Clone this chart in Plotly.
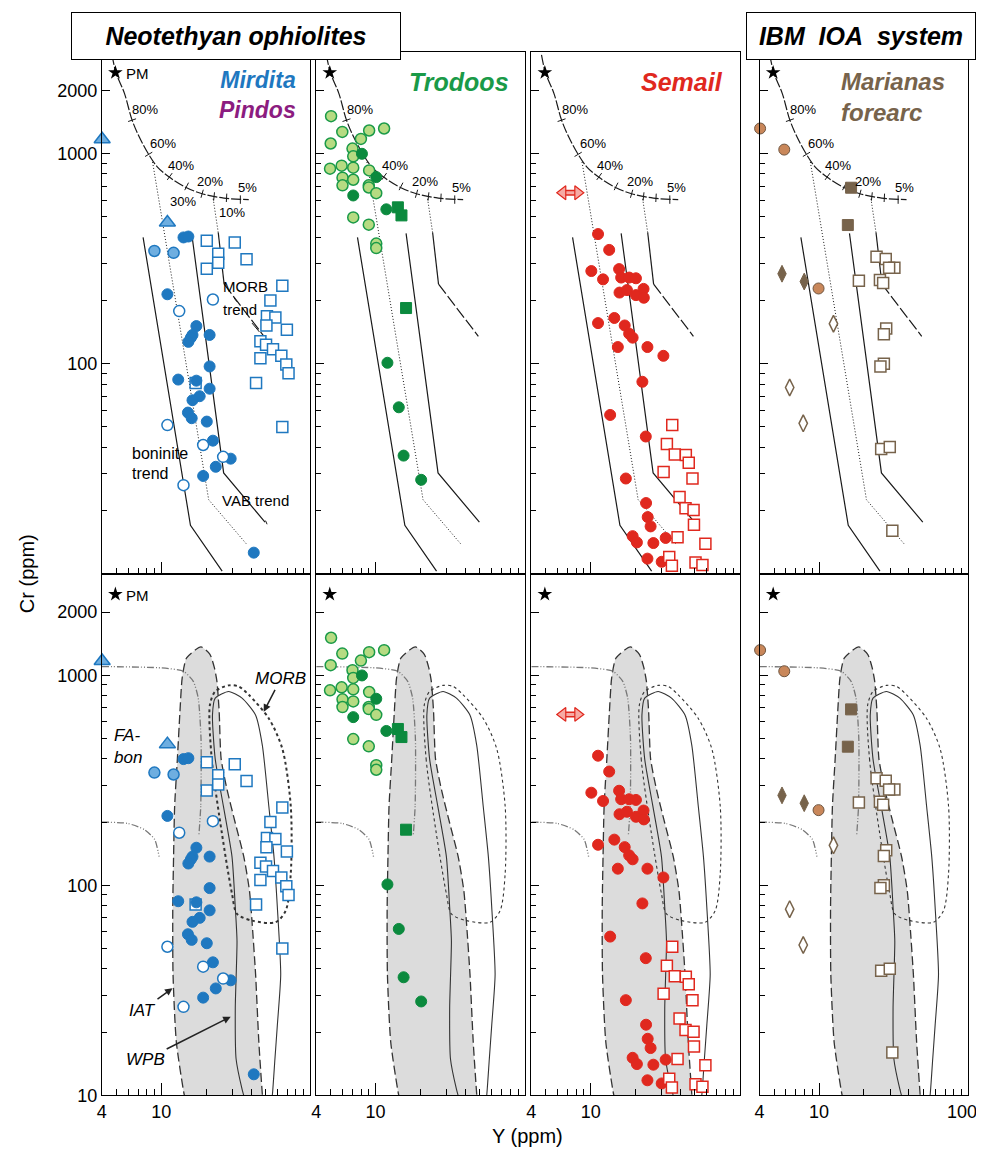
import numpy as np
import plotly.graph_objects as go

# ---------------- DATA (x = Y ppm, y = Cr ppm) ----------------
# Panel 1: Mirdita / Pindos
mir_sq_y = [20.2, 31.1, 24.1, 24.1, 20.2, 37.3, 64.8, 53.9, 51.1, 58.2, 50.7, 69.5, 46.2, 50.4, 56.1, 46.2, 63.8, 68.9, 71.3, 43.2, 64.8, 17.0]
mir_sq_cr = [385, 377, 334, 302, 283, 314, 235, 200, 168, 166, 152, 145, 128, 123, 117, 106, 109, 99, 90, 81, 50, 81]
mir_fill_y = [14.1, 15.2, 11.0, 17.2, 16.2, 15.8, 15.2, 21.1, 21.1, 13.0, 17.2, 21.1, 18.1, 16.2, 15.1, 16.0, 20.2, 22.2, 29.2, 23.2, 19.1, 41.7]
mir_fill_cr = [399, 403, 214, 151, 137, 133, 127, 137, 97, 84, 83, 76, 70, 67, 58.5, 55, 53, 43, 35.3, 32.3, 29.2, 12.6]
mir_open_y = [22.2, 13.2, 11.0, 19.1, 26.0, 14.1]
mir_open_cr = [202, 178, 51, 41, 36, 26.4]
pin_circ_y = [9.0, 12.1]
pin_circ_cr = [344, 337]
pin_tri_y = [4.02, 11.0]
pin_tri_cr = [1170, 470]

# Panel 2: Troodos
tro_light_y = [5.03, 5.98, 9.05, 11.4, 7.97, 5.0, 7.0, 7.08, 4.95, 5.92, 7.08, 9.05, 6.0, 7.08, 6.0, 9.0, 9.0, 10.1, 7.08, 9.0, 10.1, 10.1]
tro_light_cr = [1508, 1268, 1288, 1317, 1175, 1117, 1057, 971, 848, 876, 857, 832, 768, 751, 706, 706, 690, 648, 497, 459, 373, 355]
tro_dark_y = [8.1, 10.1, 7.08, 11.8, 12.0, 14.3, 15.4, 20.2]
tro_dark_cr = [998, 773, 632, 543, 101, 62, 36.5, 28]
tro_sq_y = [14.1, 14.9, 16.0]
tro_sq_cr = [555, 508, 184]

# Panel 3: Semail
sem_circ_y = [11.2, 13.3, 10.1, 12.1, 15.5, 16.0, 18.1, 20.1, 15.6, 17.5, 20.1, 22.6, 22.7, 11.2, 14.4, 16.9, 18.1, 19.1, 15.2, 24.0, 30.7, 22.2, 13.5, 23.4, 17.2, 23.5, 24.1, 25.2, 19.1, 20.4, 26.3, 31.8, 24.0, 29.9]
sem_circ_cr = [414, 348, 276, 252, 282, 257, 257, 255, 218, 224, 212, 227, 206, 156, 165, 152, 139, 133, 120, 120, 109, 82, 57, 45, 28.4, 21.7, 18.6, 16.8, 15.1, 14.1, 14.0, 14.8, 11.8, 11.4]
sem_sq_y = [35.2, 32.4, 36.6, 43.4, 45.4, 30.8, 48.1, 39.4, 43.2, 48.9, 49.2, 38.2, 58.7, 33.6, 35.0, 50.4, 56.1]
sem_sq_cr = [51, 41.4, 36.9, 36.7, 33.8, 30.5, 28.4, 23.2, 20.5, 20.1, 17.1, 14.9, 13.9, 12.0, 10.9, 11.3, 11.0]
sem_arrow_y = [6.5, 8.2]
sem_arrow_cr = [651, 651]

# Panel 4: Marianas forearc
mar_circ_y = [4.03, 5.85, 9.93]
mar_circ_cr = [1317, 1045, 228]
mar_fsq_y = [16.4, 15.6]
mar_fsq_cr = [688, 457]
mar_fdia_y = [5.65, 7.96]
mar_fdia_cr = [268, 246]
mar_odia_y = [12.5, 6.36, 7.84]
mar_odia_cr = [155, 77, 52]
mar_osq_y = [24.3, 28.0, 32.0, 29.5, 18.5, 25.6, 26.9, 28.2, 27.2, 27.2, 25.8, 26.1, 29.8, 31.0]
mar_osq_cr = [323, 315, 286, 286, 248, 250, 242, 147, 138, 100, 97, 39.2, 40.1, 16.0]

# Primitive mantle and melting curve (top row)
pm_y = [4.93]
pm_cr = [2430]
melt_y = [4.68, 4.99, 5.67, 6.38, 7.13, 8.24, 9.44, 11.3, 14.2, 18.8, 26.3, 38.6]
melt_cr = [2950, 2415, 1936, 1443, 1200, 992, 863, 773, 698, 644, 614, 604]
melt_tick_y = [6.38, 8.24, 11.4, 14.8, 18.8, 22.6, 27.4, 33.9]
melt_tick_cr = [1443, 992, 778, 698, 644, 625, 616, 604]
melt_tick_angle = [71, 59, 36, 27, 16, 6, 3, 0]
pct_text = ["80%", "60%", "40%", "30%", "20%", "10%", "5%"]
pct_y = [7.8, 10.3, 13.5, 13.9, 21.3, 29.8, 37.6]
pct_cr = [1620, 1120, 875, 591, 740, 526, 688]
pct_show = [["80%", "60%", "40%", "30%", "20%", "10%", "5%"],
            ["80%", "40%", "20%", "5%"],
            ["80%", "60%", "40%", "20%", "5%"],
            ["80%", "60%", "40%", "20%", "5%"]]

# Trend lines (top row)
bon_y = [7.56, 15.7, 25.6]
bon_cr = [399, 17.0, 10.3]
vab_y = [8.75, 20.8, 37.1]
vab_cr = [912, 22.5, 13.9]
mid_y = [16.0, 26.2, 49.6]
mid_cr = [417, 30.2, 17.6]
morbt_dot_y = [22.3, 24.1]
morbt_dot_cr = [609, 421]
morbt_sol_y = [24.1, 26.4]
morbt_sol_cr = [421, 239]
morbt_dash_y = [26.4, 48.8]
morbt_dash_cr = [239, 135]
lead1_y = [30.7, 32.2]
lead1_cr = [206, 197]
lead2_y = [40.6, 45.5]
lead2_cr = [156, 141.6]
lead3_y = [50.0, 51.2]
lead3_cr = [17.9, 17.2]

# Discrimination fields (bottom row)
iat_y = [14.6, 14.25, 12.63, 12.0, 11.95, 12.1, 12.3, 12.83, 13.35, 13.82, 14.8, 18.48, 21.2, 22.73, 23.62, 24.45, 25.2, 27.6, 31.35, 35.75, 39.0, 40.7, 42.9, 45.1, 47.6, 48.0]
iat_cr = [9.5, 10.1, 17.9, 37.6, 78.7, 137, 238, 400, 671, 971, 1211, 1364, 1258, 1084, 936, 671, 400, 286, 198, 137, 94.6, 65.4, 37.6, 17.9, 10.1, 9.5]
wpb_y = [36.6, 34.8, 31.75, 31.35, 32.2, 31.35, 29.8, 26.1, 23.0, 22.05, 23.0, 28.3, 34.8, 42.85, 47.6, 52.6, 56.95, 60.0, 63.2, 60.0, 57.8, 55.6, 54.75]
wpb_cr = [9.4, 10.7, 14.9, 26.0, 54.3, 78.7, 137, 238, 400, 647, 778, 837, 778, 647, 464, 238, 137, 78.7, 37.6, 21.6, 14.9, 10.1, 9.4]
morb_y = [21.2, 21.8, 25.5, 29.8, 32.2, 40.7, 58.4, 68.3, 73.8, 73.8, 64.8, 52.6, 38.6, 33.0, 28.3, 23.0, 21.2]
morb_cr = [723, 400, 177, 91.2, 73.1, 67.9, 66.7, 75.8, 113.8, 238, 447, 623, 807, 885, 895, 837, 723]
fab1_y = [4.0, 10.05, 14.07, 16.4, 17.7, 18.48, 18.4, 17.9]
fab1_cr = [1100, 1084, 1045, 936, 778, 499, 238, 175]
fab2_y = [4.0, 5.98, 7.74, 9.05, 9.68]
fab2_cr = [200, 197, 184, 165, 137]

# Axis ticks
x_major = [4, 10]
x_minor = [5, 6, 7, 8, 9, 20, 30, 40, 50, 60, 70, 80, 90]
x_edge_label = 100
y_major = [10, 100, 1000, 2000]
y_minor = [20, 30, 40, 50, 60, 70, 80, 90, 200, 300, 400, 500, 600, 700, 800, 900]

# ---------------- LAYOUT ----------------
# The page keeps the browser's default 8px body margin.
OFF = 8
FIG_W, FIG_H = 968, 1148
VSCALE = 0.991          # vertical scale observed between page and photograph
PANEL_LEFT = [97.3, 312.8, 529.0, 758.5]
PANEL_W = 209.7
ROW_PX = [(52, 573.5), (573.5, 1095)]
Y_TOP = 3.4833
FONT = "Liberation Sans, Arial, sans-serif"


def px(p):
    return (p - OFF) / FIG_W


def py(p):
    return 1 - (p / VSCALE - OFF) / FIG_H


BLUE = "#1f78c0"
LBLUE = "#6eaee0"
PURPLE = "#8c1c80"
GREEN_D = "#0b8a3e"
GREEN_L = "#b6db82"
GREEN_E = "#1a9a48"
RED = "#e0281e"
PINK = "#f6aaa4"
BROWN = "#77634b"
ORANGE = "#c9875a"
BROWN_E = "#6e5540"

fig = go.Figure()
layout = {}
annotations = []


def sfx(k):
    return "" if k == 1 else str(k)


for r in range(2):
    for c in range(4):
        k = r * 4 + c + 1
        s = sfx(k)
        L = PANEL_LEFT[c]
        top, bot = ROW_PX[r]
        layout["xaxis" + s] = dict(
            type="log", range=[np.log10(4), 2.0],
            domain=[px(L), px(L + PANEL_W)], anchor="y" + s,
            showline=True, mirror=True, linecolor="black", linewidth=1,
            ticks="inside", ticklen=12, tickwidth=1, tickcolor="black",
            tickmode="array", tickvals=x_major, ticktext=[str(v) for v in x_major],
            showticklabels=(r == 1),
            minor=dict(tickmode="array", tickvals=x_minor, ticks="inside", ticklen=6,
                       tickwidth=1, tickcolor="black", showgrid=False),
            showgrid=False, zeroline=False,
            tickfont=dict(family=FONT, size=18, color="black"),
        )
        ytxt = ["" if r == 0 else "10", "100", "1000", "2000"]
        layout["yaxis" + s] = dict(
            type="log", range=[1.0, Y_TOP],
            domain=[py(bot), py(top)], anchor="x" + s,
            showline=True, mirror=True, linecolor="black", linewidth=1,
            ticks="inside", ticklen=8, tickwidth=1, tickcolor="black",
            tickmode="array", tickvals=y_major, ticktext=ytxt,
            showticklabels=(c == 0),
            minor=dict(tickmode="array", tickvals=y_minor, ticks="inside", ticklen=5,
                       tickwidth=1, tickcolor="black", showgrid=False),
            showgrid=False, zeroline=False,
            tickfont=dict(family=FONT, size=18, color="black"),
        )


def add(k, x, y, **kw):
    s = sfx(k)
    fig.add_trace(go.Scatter(x=x, y=y, xaxis="x" + s, yaxis="y" + s,
                             showlegend=False, hoverinfo="skip", **kw))


def note(k, xv, yv, text, size=13, **kw):
    s = sfx(k)
    d = dict(xref="x" + s, yref="y" + s, x=np.log10(xv), y=np.log10(yv), text=text,
             showarrow=False, font=dict(family=FONT, size=size, color="black"))
    d.update(kw)
    annotations.append(d)


def pts(k, x, y, symbol, size, fill, edge, ew=1.5):
    add(k, x, y, mode="markers", cliponaxis=False,
        marker=dict(symbol=symbol, size=size, color=fill, line=dict(color=edge, width=ew)))


LINE = "#1a1a1a"
for c in range(4):
    # ---------- top row: melting curve and trends ----------
    k = c + 1
    add(k, melt_y, melt_cr, mode="lines", line=dict(color=LINE, width=1.2, dash="10px,2px", shape="spline"))
    add(k, melt_tick_y, melt_tick_cr, mode="markers",
        marker=dict(symbol="line-ns", size=6, angle=melt_tick_angle, line=dict(color=LINE, width=1)))
    add(k, bon_y, bon_cr, mode="lines", line=dict(color=LINE, width=1.2))
    add(k, vab_y, vab_cr, mode="lines", line=dict(color=LINE, width=1, dash="1px,2px"))
    add(k, mid_y, mid_cr, mode="lines", line=dict(color=LINE, width=1.2))
    add(k, morbt_dot_y, morbt_dot_cr, mode="lines", line=dict(color=LINE, width=1, dash="1px,2px"))
    add(k, morbt_sol_y, morbt_sol_cr, mode="lines", line=dict(color=LINE, width=1.2))
    add(k, morbt_dash_y, morbt_dash_cr, mode="lines", line=dict(color=LINE, width=1.2, dash="12px,3px"))
    for t, xx, yy in zip(pct_text, pct_y, pct_cr):
        if t in pct_show[c]:
            note(k, xx, yy, t, size=13)

    # ---------- bottom row: fields ----------
    k = 4 + c + 1
    add(k, iat_y, iat_cr, mode="lines", fill="toself", fillcolor="#dcdcdc",
        line=dict(color="#333333", width=1.3, dash="9px,4px", shape="spline", smoothing=0.6))
    add(k, wpb_y, wpb_cr, mode="lines", line=dict(color="#333333", width=1.1, shape="spline", smoothing=0.6))
    add(k, morb_y, morb_cr, mode="lines",
        line=dict(color="#333333", width=2 if c == 0 else 1.1, dash="dot", shape="spline", smoothing=0.8))
    add(k, fab1_y, fab1_cr, mode="lines",
        line=dict(color="#777777", width=1.3, dash="7px,2px,1px,2px,1px,2px", shape="spline", smoothing=0.6))
    add(k, fab2_y, fab2_cr, mode="lines",
        line=dict(color="#777777", width=1.3, dash="7px,2px,1px,2px,1px,2px", shape="spline", smoothing=0.6))

# trend labels, panel 1 top
note(1, 36.7, 232, "MORB", size=15)
note(1, 33.5, 181, "trend", size=15)
note(1, 6.22, 37.3, "boninite", size=16, xanchor="left")
note(1, 6.22, 30.0, "trend", size=16, xanchor="left")
note(1, 42.8, 22.3, "VAB trend", size=15)
for ly, lc in [(lead1_y, lead1_cr), (lead2_y, lead2_cr), (lead3_y, lead3_cr)]:
    add(1, ly, lc, mode="lines", line=dict(color=LINE, width=1))

# field labels, panel 1 bottom
note(5, 4.71, 518, "<i>FA-</i>", size=17, xanchor="left")
note(5, 4.71, 408, "<i>bon</i>", size=17, xanchor="left")
arrow_style = dict(showarrow=True, arrowhead=2, arrowsize=1, arrowwidth=1.5, arrowcolor="#222222",
                   axref="pixel", ayref="pixel")
note(5, 48.6, 670, "<i>MORB</i>", size=17, ax=17, ay=-33, **arrow_style)
note(5, 11.9, 32.4, "<i>IAT</i>", size=17, ax=-30, ay=22, **arrow_style)
note(5, 29.2, 23.7, "<i>WPB</i>", size=17, ax=-85, ay=43, **arrow_style)

# ---------- data points in both rows ----------
for r in range(2):
    base = r * 4
    # Mirdita / Pindos
    k = base + 1
    pts(k, mir_sq_y, mir_sq_cr, "square", 11, "white", BLUE)
    pts(k, mir_fill_y, mir_fill_cr, "circle", 11, BLUE, BLUE, 1)
    pts(k, mir_open_y, mir_open_cr, "circle", 11, "white", BLUE)
    pts(k, pin_circ_y, pin_circ_cr, "circle", 11, LBLUE, BLUE)
    pts(k, pin_tri_y, pin_tri_cr, "triangle-up", 14, LBLUE, BLUE)
    # Troodos
    k = base + 2
    pts(k, tro_light_y, tro_light_cr, "circle", 11, GREEN_L, GREEN_E)
    pts(k, tro_dark_y, tro_dark_cr, "circle", 11, GREEN_D, GREEN_D, 1)
    pts(k, tro_sq_y, tro_sq_cr, "square", 11, GREEN_D, GREEN_D, 1)
    # Semail
    k = base + 3
    add(k, sem_arrow_y, sem_arrow_cr, mode="lines", line=dict(color=RED, width=6))
    add(k, sem_arrow_y, sem_arrow_cr, mode="lines", line=dict(color=PINK, width=3))
    add(k, sem_arrow_y, sem_arrow_cr, mode="markers",
        marker=dict(symbol=["triangle-left", "triangle-right"], size=12, color=PINK,
                    line=dict(color=RED, width=1.2)))
    pts(k, sem_circ_y, sem_circ_cr, "circle", 11, RED, RED, 1)
    pts(k, sem_sq_y, sem_sq_cr, "square", 11, "white", RED)
    # Marianas
    k = base + 4
    pts(k, mar_osq_y, mar_osq_cr, "square", 11, "white", BROWN)
    pts(k, mar_fsq_y, mar_fsq_cr, "square", 11, BROWN, BROWN, 1)
    pts(k, mar_fdia_y, mar_fdia_cr, "diamond-tall", 12, BROWN, BROWN, 1)
    pts(k, mar_odia_y, mar_odia_cr, "diamond-tall", 12, "white", BROWN)
    pts(k, mar_circ_y, mar_circ_cr, "circle", 11, ORANGE, BROWN_E, 1)
    # PM star
    for c in range(4):
        add(base + c + 1, pm_y, pm_cr, mode="markers", cliponaxis=False,
            marker=dict(symbol="star", size=11, color="black", line=dict(width=0)))
    note(base + 1, 6.9, 2400, "PM", size=15)

# right-edge x label of the last panel (kept inside the page)
annotations.append(dict(xref="x8", yref="y8", x=np.log10(x_edge_label), y=1.0, text=str(x_edge_label),
                        showarrow=False, xanchor="center", yanchor="middle", xshift=-6, yshift=-17,
                        font=dict(family=FONT, size=18, color="black")))


# panel names
def ptitle(text, xpix, ypix, anchor, size=25):
    annotations.append(dict(xref="paper", yref="paper", x=px(xpix), y=py(ypix),
                            xanchor=anchor, yanchor="middle", showarrow=False, align=anchor,
                            text=text, font=dict(family=FONT, size=size, color="black")))


def colored(t, col):
    return "<span style='color:" + col + "'><b><i>" + t + "</i></b></span>"


ptitle(colored("Mirdita", BLUE) + "<br>" + colored("Pindos", PURPLE), 294, 95, "right", 23)
ptitle(colored("Trodoos", GREEN_E), 509, 82, "right")
ptitle(colored("Semail", RED), 724, 82, "right")
ptitle(colored("Marianas", BROWN) + "<br>" + colored("forearc", BROWN), 838, 97, "left", 24)

# header boxes
for text, x0, x1 in [("Neotethyan ophiolites", 67, 397), ("IBM\u00a0 IOA\u00a0 system", 745, 975)]:
    annotations.append(dict(xref="paper", yref="paper", x=px((x0 + x1) / 2), y=py(36),
                            xanchor="center", yanchor="middle", showarrow=False,
                            text="<b><i>" + text + "</i></b>", width=x1 - x0 - 2, height=46,
                            borderpad=0, bordercolor="black", borderwidth=1, bgcolor="white",
                            font=dict(family=FONT, size=25, color="black")))

# axis titles
annotations.append(dict(xref="paper", yref="paper", x=px(22), y=py(573), text="Cr (ppm)",
                        textangle=-90, showarrow=False, xanchor="center", yanchor="middle",
                        font=dict(family=FONT, size=20, color="black")))
annotations.append(dict(xref="paper", yref="paper", x=px(525), y=py(1136), text="Y (ppm)",
                        showarrow=False, xanchor="center", yanchor="middle",
                        font=dict(family=FONT, size=20, color="black")))

fig.update_layout(
    width=FIG_W, height=FIG_H, autosize=False,
    margin=dict(l=0, r=0, t=0, b=0),
    paper_bgcolor="white", plot_bgcolor="white",
    showlegend=False, annotations=annotations,
    font=dict(family=FONT, color="black"),
    **layout,
)

fig.write_html("out.html", config={"displayModeBar": False})
